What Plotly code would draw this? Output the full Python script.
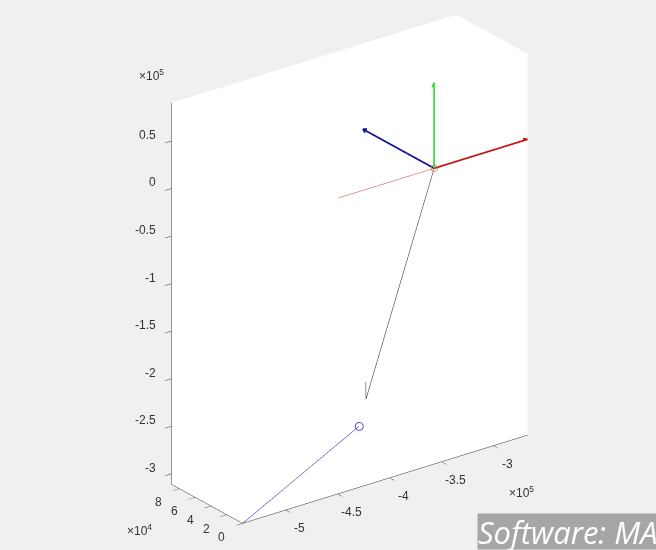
import numpy as np
import plotly.graph_objects as go

# ---------------- data ----------------
origin = [-3.57e5, 0.0, 0.0]          # body frame origin
axis_len = 9.0e4                        # length of the triad arrows
neg_x_end = [-4.49e5, 0.0, 0.0]        # thin red line end
black_tip = [-4.227e5, 0.0, -2.206e5]  # black arrow tip
purple_start = [-5.415e5, 0.0, -3.11e5]
purple_end = [-4.294e5, 0.0, -2.468e5]

x_range = [-5.415e5, -2.67e5]
y_range = [0.0, 9.0e4]
z_range = [-3.11e5, 0.9e5]

x_tickvals = [-5e5, -4.5e5, -4e5, -3.5e5, -3e5]
x_ticktext = ["-5", "-4.5", "-4", "-3.5", "-3"]
y_tickvals = [0, 2e4, 4e4, 6e4, 8e4]
y_ticktext = ["0", "2", "4", "6", "8"]
z_tickvals = [-3e5, -2.5e5, -2e5, -1.5e5, -1e5, -0.5e5, 0, 0.5e5]
z_ticktext = ["-3", "-2.5", "-2", "-1.5", "-1", "-0.5", "0", "0.5"]

# ---------------- view ----------------
aspect = np.array([0.8516, 0.2834, 1.0])
zoom = 1.556
eye_dir = np.array([-0.5471, -0.7283, 0.4125])
eye_r = 3.0

lo = np.array([x_range[0], y_range[0], z_range[0]])
span = np.array([x_range[1] - x_range[0], y_range[1] - y_range[0], z_range[1] - z_range[0]])


def to_n(p):
    return (np.asarray(p, float) - lo) / span * aspect


def from_n(q):
    return np.asarray(q) / aspect * span + lo


def head(start, tip, h, half):
    s, t = to_n(start), to_n(tip)
    d = t - s
    d = d / np.linalg.norm(d)
    w = np.cross(d, eye_dir)
    w = w / np.linalg.norm(w)
    a = from_n(t - h * d + half * w)
    b = from_n(t - h * d - half * w)
    tp = np.asarray(tip, float)
    return [a[0], tp[0], b[0]], [a[1], tp[1], b[1]], [a[2], tp[2], b[2]]


fig = go.Figure()


def seg(p0, p1, color, width):
    fig.add_trace(go.Scatter3d(x=[p0[0], p1[0]], y=[p0[1], p1[1]], z=[p0[2], p1[2]],
                               mode="lines", line=dict(color=color, width=width),
                               hoverinfo="skip", showlegend=False))


def arrow(p0, p1, color, width, h, half):
    seg(p0, p1, color, width)
    xs, ys, zs = head(p0, p1, h, half)
    fig.add_trace(go.Scatter3d(x=xs, y=ys, z=zs, mode="lines",
                               line=dict(color=color, width=width),
                               hoverinfo="skip", showlegend=False))


x_tip = [origin[0] + axis_len, origin[1], origin[2]]
y_tip = [origin[0], origin[1] + axis_len, origin[2]]
z_tip = [origin[0], origin[1], origin[2] + axis_len]

# thin red line (negative x side)
seg(neg_x_end, origin, "#c86464", 1.2)
# purple line + circle
seg(purple_start, purple_end, "#5b50b4", 1.2)
fig.add_trace(go.Scatter3d(x=[purple_end[0]], y=[purple_end[1]], z=[purple_end[2]],
                           mode="markers", marker=dict(symbol="circle-open", size=5, color="#4a40c0"),
                           hoverinfo="skip", showlegend=False))
# black arrow
arrow(origin, black_tip, "#202020", 1.0, 0.04, 0.012)
# triad
arrow(origin, x_tip, "#c41414", 3.5, 0.012, 0.005)
arrow(origin, y_tip, "#14149a", 3.5, 0.012, 0.005)
arrow(origin, z_tip, "#3ee03e", 3.5, 0.012, 0.005)
# origin marker
fig.add_trace(go.Scatter3d(x=[origin[0]], y=[origin[1]], z=[origin[2]],
                           mode="markers", marker=dict(symbol="circle-open", size=4, color="#e07030"),
                           hoverinfo="skip", showlegend=False))

tick_font = dict(family="Liberation Sans, Arial, sans-serif", size=12, color="#333333")
axis_common = dict(showgrid=False, zeroline=False, showbackground=True,
                   backgroundcolor="white", showline=True, linecolor="#303030",
                   linewidth=1, ticks="outside", ticklen=8, tickwidth=1, tickcolor="#303030",
                   showticklabels=False, title=dict(text=""), showspikes=False,
                   autorange=False)

# tick labels as scene annotations (placed like MATLAB's)
scene_ann = []
for v, t in zip(z_tickvals, z_ticktext):
    scene_ann.append(dict(x=x_range[0], y=y_range[1], z=v, text=t, showarrow=False,
                          xanchor="right", yanchor="middle", xshift=-14, yshift=6, font=tick_font))
for v, t in zip(x_tickvals, x_ticktext):
    scene_ann.append(dict(x=v, y=y_range[0], z=z_range[0], text=t, showarrow=False,
                          xanchor="center", yanchor="middle", xshift=14, yshift=-18, font=tick_font))
for v, t in zip(y_tickvals, y_ticktext):
    scene_ann.append(dict(x=x_range[0], y=v, z=z_range[0], text=t, showarrow=False,
                          xanchor="center", yanchor="middle", xshift=-21, yshift=-14, font=tick_font))
scene_ann += [
    dict(x=x_range[0], y=y_range[1], z=z_range[1], text="\u00d710<sup>5</sup>",
         showarrow=False, xshift=-20, yshift=28, font=tick_font),
    dict(x=x_range[1], y=y_range[0], z=z_range[0], text="\u00d710<sup>5</sup>",
         showarrow=False, xshift=-6, yshift=-57, font=tick_font),
    dict(x=x_range[0], y=y_range[1], z=z_range[0], text="\u00d710<sup>4</sup>",
         showarrow=False, xshift=-32, yshift=-46, font=tick_font),
]

fig.update_layout(
    width=656, height=550,
    margin=dict(l=0, r=0, t=0, b=0),
    paper_bgcolor="#f0f0f0",
    scene=dict(
        domain=dict(x=[0.066, 1.0], y=[0.022, 1.0]),
        bgcolor="#f0f0f0",
        xaxis=dict(range=x_range, tickvals=x_tickvals, **axis_common),
        yaxis=dict(range=y_range, tickvals=y_tickvals, **axis_common),
        zaxis=dict(range=z_range, tickvals=z_tickvals, **axis_common),
        aspectmode="manual",
        aspectratio=dict(x=aspect[0] * zoom, y=aspect[1] * zoom, z=aspect[2] * zoom),
        camera=dict(projection=dict(type="orthographic"),
                    up=dict(x=0, y=0, z=1), center=dict(x=0, y=0, z=0),
                    eye=dict(x=eye_dir[0] * eye_r, y=eye_dir[1] * eye_r, z=eye_dir[2] * eye_r)),
        annotations=scene_ann,
    ),
    annotations=[
        dict(xref="paper", yref="paper", x=477 / 656, y=0, xanchor="left", yanchor="bottom",
             text="<i>Software: MATLAB</i>", showarrow=False, align="left",
             font=dict(family="Open Sans, sans-serif", size=31, color="white"),
             bgcolor="#a6a6a6", borderpad=0, height=35),
    ],
)

fig.write_html("out.html", post_script="document.body.style.margin='0';",
               config={"displayModeBar": False})
